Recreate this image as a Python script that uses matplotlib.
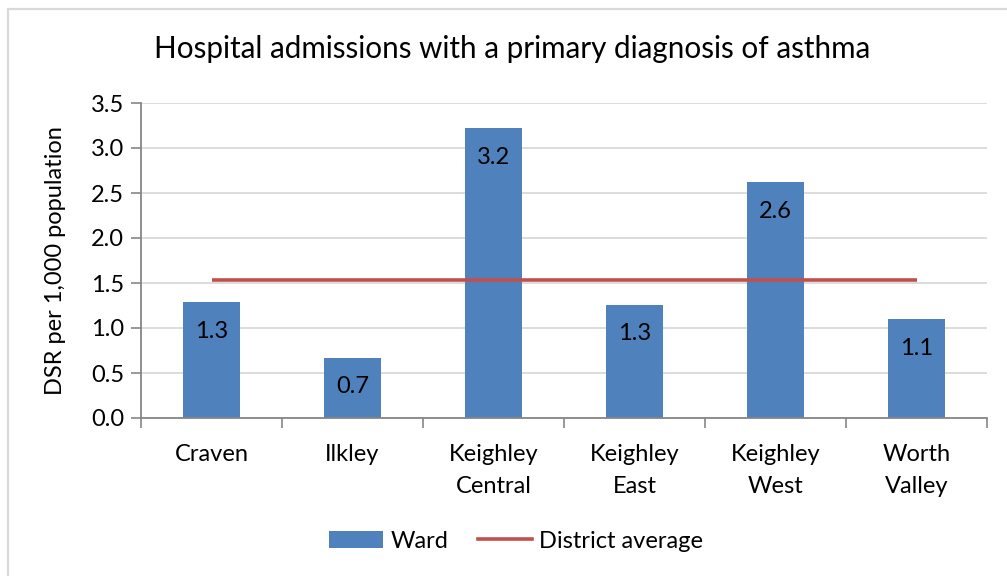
import matplotlib
matplotlib.use("Agg")
import matplotlib.pyplot as plt
from matplotlib.patches import Rectangle, Patch
from matplotlib.lines import Line2D

categories = ["Craven", "Ilkley", "Keighley\nCentral", "Keighley\nEast", "Keighley\nWest", "Worth\nValley"]
ward_values = [1.29, 0.67, 3.22, 1.26, 2.62, 1.10]
ward_labels = ["1.3", "0.7", "3.2", "1.3", "2.6", "1.1"]
district_average = [1.53] * 6
y_ticks = [0.0, 0.5, 1.0, 1.5, 2.0, 2.5, 3.0, 3.5]

plt.rcParams['font.family'] = ['Lato', 'DejaVu Sans']

W, H = 1007, 576
fig = plt.figure(figsize=(W / 100, H / 100), dpi=100)
fig.patch.set_facecolor('white')

# chart border
fig.patches.append(Rectangle((8 / W, -0.1), 1.2, 1 - 9 / H + 0.1, transform=fig.transFigure,
                             fill=False, edgecolor='#d9d9d9', linewidth=1.6))

ax = fig.add_axes([141 / W, 1 - 418 / H, (987 - 141) / W, (418 - 103) / H])
x = list(range(len(categories)))
bar_color = '#4f81bd'
line_color = '#c0504d'
ax.bar(x, ward_values, width=0.40, color=bar_color, zorder=2)
ax.plot(x, district_average, color=line_color, linewidth=2.6, zorder=3, solid_capstyle='butt')

for xi, v, lab in zip(x, ward_values, ward_labels):
    ax.annotate(lab, xy=(xi, v), xytext=(0, -21), textcoords='offset points',
                ha='center', va='center', fontsize=17, color='black', zorder=4)

ax.set_xlim(-0.5, len(categories) - 0.5)
ax.set_ylim(0, 3.5)
ax.set_yticks(y_ticks)
ax.set_yticklabels([f"{t:.1f}" for t in y_ticks], fontsize=17)
ax.set_xticks(x)
ax.set_xticklabels(categories, fontsize=17, linespacing=1.6)
ax.tick_params(axis='x', length=0, pad=19)
ax.set_xticks([i - 0.5 for i in range(len(categories) + 1)], minor=True)
ax.tick_params(axis='x', which='minor', length=7, color='#868686', width=1.2)
ax.tick_params(axis='y', length=7, color='#868686', width=1.2, pad=5)
ax.grid(axis='y', color='#d9d9d9', linewidth=1.3, zorder=0)
ax.set_axisbelow(True)
for s in ['top', 'right']:
    ax.spines[s].set_visible(False)
for s in ['left', 'bottom']:
    ax.spines[s].set_color('#868686')
    ax.spines[s].set_linewidth(1.3)

ax.set_ylabel("DSR per 1,000 population", fontsize=17, labelpad=18)

fig.text(512 / W, 1 - 49 / H, "Hospital admissions with a primary diagnosis of asthma",
         ha='center', va='center', fontsize=21.3)

handles = [Patch(facecolor=bar_color, edgecolor='none'),
           Line2D([0], [0], color=line_color, linewidth=2.6)]
fig.legend(handles, ["Ward", "District average"], loc='center', bbox_to_anchor=(516 / W, 1 - 541 / H),
           ncol=2, frameon=False, fontsize=17, handlelength=2.3, handleheight=0.7,
           columnspacing=1.25, handletextpad=0.3)

fig.savefig("out.png", dpi=100, facecolor='white')
